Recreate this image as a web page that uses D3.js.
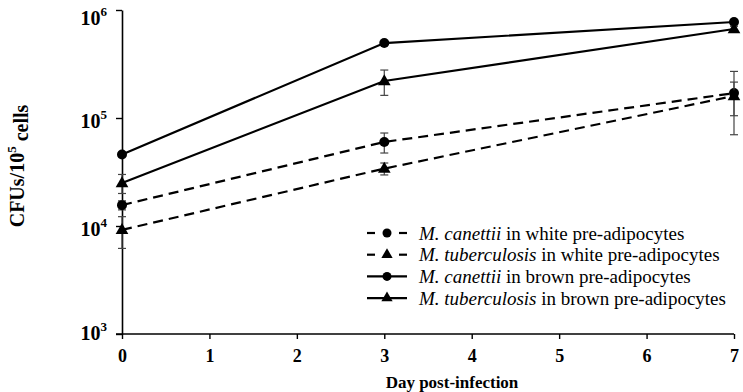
<!DOCTYPE html>
<html>
<head>
<meta charset="utf-8">
<script src="https://cdn.jsdelivr.net/npm/d3@7"></script>
<style>
  body { margin: 0; background: #fff; }
  svg { display: block; }
  svg text { font-family: "Liberation Serif", "Times New Roman", Times, "DejaVu Serif", serif; fill: #000; }
</style>
</head>
<body>
<div id="chart"></div>
<script>
// days sampled
var days = [0, 3, 7];

// mean CFUs per 10^5 cells, one array per series
var canettiiWhite = [15600, 60000, 170000];
var tbWhite = [9200, 34000, 160000];
var canettiiBrown = [46000, 494000, 774000];
var tbBrown = [25000, 220000, 667000];

// standard deviations (same order)
var canettiiWhiteErr = [1500, 12600, 100000];
var tbWhiteErr = [3000, 4300, 55000];
var canettiiBrownErr = [2000, 0, 40000];
var tbBrownErr = [5000, 58000, 40000];

var seriesNames = [
  ["M. canettii", " in white pre-adipocytes"],
  ["M. tuberculosis", " in white pre-adipocytes"],
  ["M. canettii", " in brown pre-adipocytes"],
  ["M. tuberculosis", " in brown pre-adipocytes"]
];
var xTicks = [0, 1, 2, 3, 4, 5, 6, 7];
var yTicks = [1e3, 1e4, 1e5, 1e6];

var width = 743
 ,  height = 392
 ,  serif = '"Liberation Serif", "Times New Roman", Times, "DejaVu Serif", serif';

var series = [
  {name: seriesNames[0], values: canettiiWhite, err: canettiiWhiteErr, dashed: true, shape: "circle"},
  {name: seriesNames[1], values: tbWhite, err: tbWhiteErr, dashed: true, shape: "triangle"},
  {name: seriesNames[2], values: canettiiBrown, err: canettiiBrownErr, dashed: false, shape: "circle"},
  {name: seriesNames[3], values: tbBrown, err: tbBrownErr, dashed: false, shape: "triangle"}
];

var x = d3.scaleLinear().domain([0, 7]).range([122, 734]);
var y = d3.scaleLog().domain([1e3, 1e6]).range([334, 10]);

var svg = d3.select("#chart").append("svg")
  .attr("width", width)
  .attr("height", height)
  .attr("font-family", serif);

// axes
var xAxis = svg.append("g")
  .attr("transform", "translate(0,334)")
  .call(d3.axisBottom(x).tickValues(xTicks).tickSize(5).tickSizeOuter(0).tickFormat(d3.format("d")))
  .attr("font-family", serif);
xAxis.select(".domain").attr("d", "M116,0H734").attr("stroke-width", 1.6);
xAxis.selectAll(".tick line").attr("stroke-width", 1.4);
xAxis.selectAll(".tick text")
  .attr("y", 15)
  .attr("font-size", "18px")
  .attr("font-weight", "bold");

var yAxis = svg.append("g")
  .attr("transform", "translate(122,0)")
  .call(d3.axisLeft(y).tickValues(yTicks).tickSize(6).tickSizeOuter(0).tickFormat(""))
  .attr("font-family", serif);
yAxis.select(".domain").attr("stroke-width", 1.6);
yAxis.selectAll(".tick line").attr("stroke-width", 1.4);

// top and bottom labels are nudged inwards, like the original
var yLabel = yAxis.selectAll(".tick").append("text")
  .attr("x", -15)
  .attr("y", function(d) { return d == 1e6 ? 5 : (d == 1e3 ? -4 : 0); })
  .attr("dy", "0.45em")
  .attr("text-anchor", "end")
  .attr("font-size", "20px")
  .attr("font-weight", "bold");
yLabel.append("tspan").text("10");
yLabel.append("tspan")
  .attr("dy", "-0.65em")
  .attr("font-size", "13px")
  .text(function(d) { return Math.round(Math.log10(d)); });

// axis titles
var yTitle = svg.append("text")
  .attr("transform", "translate(24,166) rotate(-90)")
  .attr("text-anchor", "middle")
  .attr("font-size", "20px")
  .attr("font-weight", "bold");
yTitle.append("tspan").text("CFUs/10");
yTitle.append("tspan").attr("dy", "-0.6em").attr("font-size", "13px").text("5");
yTitle.append("tspan").attr("dy", "0.6em").text(" cells");

svg.append("text")
  .attr("x", 452)
  .attr("y", 388)
  .attr("text-anchor", "middle")
  .attr("font-size", "17px")
  .attr("font-weight", "bold")
  .text("Day post-infection");

var line = d3.line()
  .x(function(d) { return x(d.day); })
  .y(function(d) { return y(d.value); });

var tri = d3.symbol().type(d3.symbolTriangle).size(70);

function drawMarker(g, shape) {
  if (shape == "circle") {
    g.append("circle").attr("r", 5).attr("fill", "#000");
  } else {
    g.append("path").attr("d", tri).attr("transform", "translate(0,0.5)").attr("fill", "#000");
  }
}

series.forEach(function(s) {
  var pts = days.map(function(d, i) { return {day: d, value: s.values[i], err: s.err[i]}; });

  // error bars
  var eb = svg.append("g").attr("stroke", "#444").attr("stroke-width", 1.2);
  pts.forEach(function(p) {
    if (!p.err) return;
    var top = y(p.value + p.err)
     ,  bot = y(Math.max(p.value - p.err, 1e3))
     ,  cx = x(p.day);
    eb.append("line").attr("x1", cx).attr("x2", cx).attr("y1", top).attr("y2", bot);
    eb.append("line").attr("x1", cx - 4).attr("x2", cx + 4).attr("y1", top).attr("y2", top);
    eb.append("line").attr("x1", cx - 4).attr("x2", cx + 4).attr("y1", bot).attr("y2", bot);
  });

  svg.append("path")
    .datum(pts)
    .attr("d", line)
    .attr("fill", "none")
    .attr("stroke", "#000")
    .attr("stroke-width", 2.2)
    .attr("stroke-dasharray", s.dashed ? "10,6" : null);

  pts.forEach(function(p) {
    var g = svg.append("g").attr("transform", "translate(" + x(p.day) + "," + y(p.value) + ")");
    drawMarker(g, s.shape);
  });
});

// legend
var legend = svg.append("g").attr("transform", "translate(367,233)");
series.forEach(function(s, i) {
  var row = legend.append("g").attr("transform", "translate(0," + (i * 21.7) + ")");
  if (s.dashed) {
    row.append("line").attr("x1", 0).attr("x2", 8).attr("stroke", "#000").attr("stroke-width", 2.2);
    row.append("line").attr("x1", 32).attr("x2", 40).attr("stroke", "#000").attr("stroke-width", 2.2);
  } else {
    row.append("line").attr("x1", 0).attr("x2", 40).attr("stroke", "#000").attr("stroke-width", 2.2);
  }
  var m = row.append("g").attr("transform", "translate(20,0)");
  if (s.shape == "circle") {
    m.append("circle").attr("r", 4.5).attr("fill", "#000");
  } else {
    m.append("path").attr("d", d3.symbol().type(d3.symbolTriangle).size(55)).attr("fill", "#000");
  }
  var t = row.append("text")
    .attr("x", 52)
    .attr("dy", "0.35em")
    .attr("font-size", "19px");
  t.append("tspan").attr("font-style", "italic").text(s.name[0]);
  t.append("tspan").text(s.name[1]);
});
</script>
</body>
</html>
